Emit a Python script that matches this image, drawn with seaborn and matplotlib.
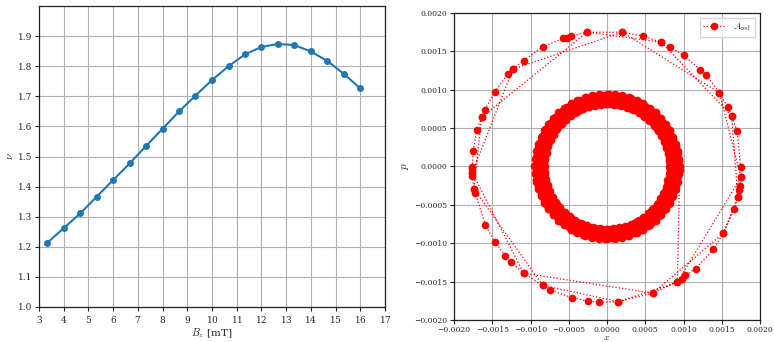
import numpy as np
import matplotlib
matplotlib.use('Agg')
import matplotlib.pyplot as plt
import seaborn as sns

sns.set_style("whitegrid")
plt.rcParams['font.family'] = ['DejaVu Serif']
plt.rcParams['mathtext.fontset'] = 'cm'
plt.rcParams['axes.formatter.use_mathtext'] = True

# left panel: nu vs B
b_field = [3.33, 4.0, 4.67, 5.33, 6.0, 6.67, 7.33, 8.0, 8.67, 9.33,
           10.0, 10.67, 11.33, 12.0, 12.67, 13.33, 14.0, 14.67, 15.33, 16.0]
nu = [1.213, 1.262, 1.311, 1.366, 1.422, 1.477, 1.535, 1.592, 1.650, 1.702,
      1.754, 1.800, 1.839, 1.864, 1.874, 1.870, 1.849, 1.817, 1.775, 1.726]

# right panel: inner ring read as radius per loop, angle offset per loop, angles (deg)
inner_r = [0.00095, 0.00093, 0.00091, 0.00089, 0.00087, 0.00085, 0.00083, 0.00081,
           0.00082, 0.00084, 0.00086, 0.00088, 0.00090, 0.00092, 0.00094]
inner_off = [0, 3, 1.5, 4.5, 0.8, 3.8, 2.2, 5.2, 1.1, 4.1, 2.6, 0.4, 3.3, 1.8, 4.8]
inner_deg = [0, 6, 12, 18, 24, 30, 36, 42, 48, 54, 60, 66, 72, 78, 84, 90, 96, 102,
             108, 114, 120, 126, 132, 138, 144, 150, 156, 162, 168, 174, 180, 186,
             192, 198, 204, 210, 216, 222, 228, 234, 240, 246, 252, 258, 264, 270,
             276, 282, 288, 294, 300, 306, 312, 318, 324, 330, 336, 342, 348, 354]

# outer points, in the order they were visited
outer_x = [0.00095, 0.00092, 0.00175, 0.00147, 0.00020, -0.00123, -0.00176, -0.00109, 0.00060, 0.00098,
           0.00102, 0.00116, 0.00139, 0.00152, 0.00166, 0.00171, 0.00173, 0.00174, 0.00175, 0.00175,
           0.00170, 0.00163, 0.00158, 0.00147, 0.00130, 0.00122, 0.00100, 0.00082, 0.00071, 0.00047,
           0.00020, -0.00026, -0.00047, -0.00052, -0.00057, -0.00084, -0.00109, -0.00123, -0.00130, -0.00147,
           -0.00160, -0.00164, -0.00170, -0.00175, -0.00176, -0.00176, -0.00176, -0.00176, -0.00174, -0.00172,
           -0.00159, -0.00147, -0.00133, -0.00125, -0.00109, -0.00084, -0.00074, -0.00046, -0.00025, -0.00011,
           0.00015, 0.00060, 0.00152, 0.00171, 0.00163, 0.00071, -0.00026, -0.00164, -0.00174, -0.00084,
           0.00015, 0.00092]
outer_y = [-0.00005, -0.00151, -0.00014, 0.00096, 0.00175, 0.00127, -0.00008, -0.00139, -0.00165, -0.00147,
           -0.00142, -0.00133, -0.00108, -0.00087, -0.00056, -0.00040, -0.00031, -0.00025, -0.00014, -0.00001,
           0.00046, 0.00066, 0.00077, 0.00096, 0.00119, 0.00126, 0.00145, 0.00156, 0.00162, 0.00170,
           0.00175, 0.00175, 0.00170, 0.00168, 0.00167, 0.00156, 0.00138, 0.00127, 0.00120, 0.00097,
           0.00073, 0.00064, 0.00048, 0.00020, -0.00001, -0.00003, -0.00008, -0.00013, -0.00029, -0.00035,
           -0.00076, -0.00098, -0.00116, -0.00125, -0.00139, -0.00155, -0.00161, -0.00171, -0.00175, -0.00177,
           -0.00176, -0.00165, -0.00087, -0.00040, 0.00066, 0.00162, 0.00175, 0.00064, -0.00029, -0.00155,
           -0.00176, -0.00151]

inner_x, inner_y = [], []
for r, off in zip(inner_r, inner_off):
    for d in inner_deg:
        inner_x.append(r * np.cos(np.radians(d + off)))
        inner_y.append(r * np.sin(np.radians(d + off)))
px = inner_x + outer_x
py = inner_y + outer_y

fig = plt.figure(figsize=(7.74, 3.42), dpi=100)
ax1 = fig.add_axes([39 / 774, 1 - 307 / 342, 346 / 774, 301 / 342])
ax2 = fig.add_axes([454 / 774, 1 - 320 / 342, 306 / 774, 307 / 342])

grid_kw = dict(color='#b0b0b0', linewidth=0.8)
for ax in (ax1, ax2):
    ax.grid(True, **grid_kw)
    for s in ax.spines.values():
        s.set_color('#222222')
        s.set_linewidth(0.9)
    ax.tick_params(labelsize=6.5, length=3, width=0.8, direction='out', pad=2,
                   bottom=True, left=True, color='#222222')

sns.lineplot(x=b_field, y=nu, ax=ax1, color='#1f77b4', marker='o',
             markersize=5, linewidth=1.5, markeredgewidth=0)
ax1.set_xlim(3, 17)
ax1.set_ylim(1.0, 2.0)
ax1.set_xticks(range(3, 18))
ax1.set_yticks([1.0, 1.1, 1.2, 1.3, 1.4, 1.5, 1.6, 1.7, 1.8, 1.9])
ax1.set_yticklabels(['1.0', '1.1', '1.2', '1.3', '1.4', '1.5', '1.6', '1.7', '1.8', '1.9'])
ax1.set_xlabel(r'$B_z$ [mT]', fontsize=7.5, labelpad=1)
ax1.set_ylabel(r'$\nu$', fontsize=8, labelpad=2)

ax2.plot(px, py, color='red', linestyle=':', linewidth=0.9, marker='o',
         markersize=5.5, markeredgewidth=0, label=r'$A_{\rm red}$')
ax2.set_xlim(-0.002, 0.002)
ax2.set_ylim(-0.002, 0.002)
ticks = [-0.002, -0.0015, -0.001, -0.0005, 0.0, 0.0005, 0.001, 0.0015, 0.002]
tick_labels = ['\u22120.0020', '\u22120.0015', '\u22120.0010', '\u22120.0005', '0.0000',
               '0.0005', '0.0010', '0.0015', '0.0020']
ax2.set_xticks(ticks)
ax2.set_xticklabels(tick_labels, fontsize=5.5)
ax2.set_yticks(ticks)
ax2.set_yticklabels(tick_labels, fontsize=5.5)
ax2.tick_params(axis='x', pad=1.5)
ax2.set_xlabel(r'$x$', fontsize=7, labelpad=-1)
ax2.set_ylabel(r'$p$', fontsize=8, labelpad=2)
leg = ax2.legend(loc='upper right', fontsize=7, frameon=True, handlelength=2.2,
                 borderpad=0.4, fancybox=False)
leg.get_frame().set_edgecolor('#cccccc')

fig.savefig('out.png', dpi=100)
